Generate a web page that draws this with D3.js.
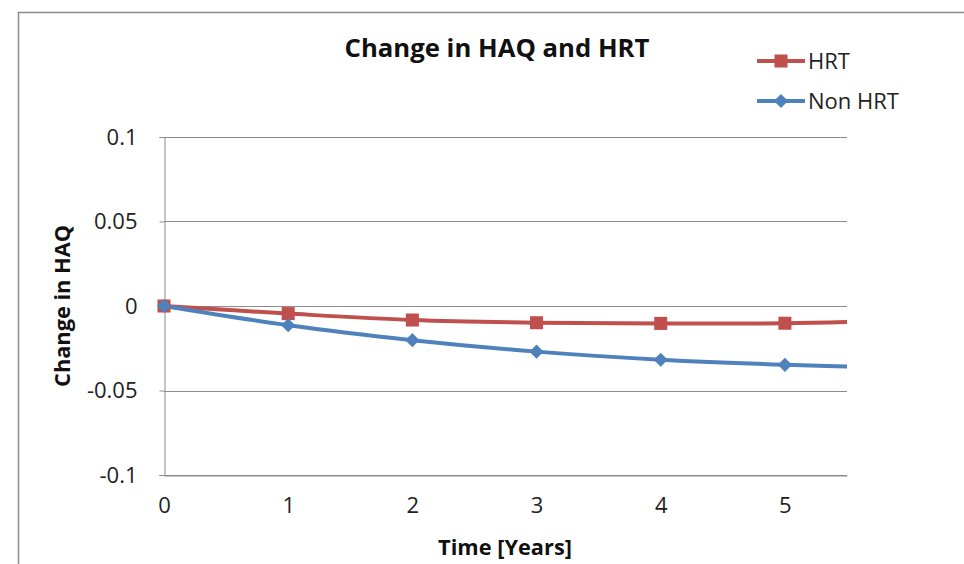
<!DOCTYPE html>
<html><head><meta charset="utf-8">
<script src="https://cdn.jsdelivr.net/npm/d3@7"></script>
<style>body{margin:0;background:#fff}svg{display:block}text{font-family:"Open Sans",sans-serif}</style>
</head><body><svg id="c" width="964" height="564"></svg>
<script>
const years = [0, 1, 2, 3, 4, 5, 6];
const hrt = [0, -0.0045, -0.0083, -0.0099, -0.0103, -0.0102, -0.0085];
const nonHrt = [0, -0.0114, -0.0202, -0.027, -0.0318, -0.0348, -0.0365];
const yTicks = [-0.1, -0.05, 0, 0.05, 0.1];
const yTickLabels = ["-0.1", "-0.05", "0", "0.05", "0.1"];
const xTicks = [0, 1, 2, 3, 4, 5];
const xTickLabels = ["0", "1", "2", "3", "4", "5"];
const seriesNames = ["HRT", "Non HRT"];
const colors = ["#C0504D", "#4F81BD"];

const svg = d3.select("#c");
const L = 164, R = 847, T = 137, B = 475;
const x = d3.scaleLinear().domain([0, 5.5]).range([L, R]);
const y = d3.scaleLinear().domain([-0.1, 0.1]).range([B, T]);

// outer border
svg.append("rect").attr("x", 18.5).attr("y", 12.5).attr("width", 1000).attr("height", 600)
  .attr("fill", "none").attr("stroke", "#8c8c8c").attr("stroke-width", 1.5);

function fit(sel, w) {
  const n = sel.node(); const fs = parseFloat(sel.attr("font-size"));
  const cw = n.getComputedTextLength(); sel.attr("font-size", fs * w / cw);
}

// grid
svg.append("g").selectAll("line").data(yTicks).join("line")
  .attr("x1", L).attr("x2", R).attr("y1", d => Math.round(y(d)) + 0.5).attr("y2", d => Math.round(y(d)) + 0.5)
  .attr("stroke", "#8c8c8c").attr("stroke-width", 1);

// y axis
const ya = svg.append("g").attr("transform", `translate(${L + 0.5},0)`)
  .call(d3.axisLeft(y).tickValues(yTicks).tickSize(5).tickPadding(22).tickFormat((d, i) => yTickLabels[i]));
ya.select(".domain").attr("stroke", "#8c8c8c");
ya.selectAll(".tick line").attr("stroke", "#8c8c8c");
ya.selectAll("text").attr("font-size", 22).attr("fill", "#222").attr("font-family", "Open Sans");

// x axis
const xa = svg.append("g").attr("transform", `translate(0,${B + 0.5})`)
  .call(d3.axisBottom(x).tickValues(xTicks).tickSize(0).tickPadding(22).tickFormat((d, i) => xTickLabels[i]));
xa.select(".domain").attr("stroke", "#8c8c8c");
xa.selectAll("text").attr("font-size", 22).attr("fill", "#222").attr("font-family", "Open Sans");

// clip
svg.append("clipPath").attr("id", "clip").append("rect").attr("x", L - 12).attr("y", T - 12).attr("width", R - L + 12).attr("height", B - T + 24);

const line = d3.line().x((d, i) => x(years[i])).y(d => y(d)).curve(d3.curveCatmullRom.alpha(0.5));
const data = [hrt, nonHrt];
const plot = svg.append("g").attr("clip-path", "url(#clip)");
data.forEach((s, k) => {
  plot.append("path").attr("d", line(s)).attr("fill", "none").attr("stroke", colors[k]).attr("stroke-width", 4);
});
const sq = d3.symbol().type(d3.symbolSquare).size(170);
const dm = d3.symbol().type(d3.symbolSquare).size(100);
const rot = k => k === 0 ? "" : " rotate(45)";
data.forEach((s, k) => {
  plot.selectAll(null).data(s.filter((d, i) => years[i] <= 5.5)).join("path")
    .attr("transform", (d, i) => `translate(${x(years[i])},${y(d)})` + rot(k))
    .attr("d", k === 0 ? sq() : dm()).attr("fill", colors[k]);
});

// title
const t = svg.append("text").attr("x", 497).attr("y", 57).attr("text-anchor", "middle")
  .attr("font-weight", "bold").attr("font-size", 26).attr("fill", "#111").text("Change in HAQ and HRT");
fit(t, 305);
const xt = svg.append("text").attr("x", 505).attr("y", 555).attr("text-anchor", "middle")
  .attr("font-weight", "bold").attr("font-size", 19).attr("fill", "#111").text("Time [Years]");
fit(xt, 134);
const yt = svg.append("text").attr("transform", "translate(70,306) rotate(-90)").attr("text-anchor", "middle")
  .attr("font-weight", "bold").attr("font-size", 19).attr("fill", "#111").text("Change in HAQ");
fit(yt, 162);

// legend
const lg = svg.append("g");
seriesNames.forEach((n, k) => {
  const ly = 61 + k * 40;
  lg.append("line").attr("x1", 757).attr("x2", 805).attr("y1", ly).attr("y2", ly).attr("stroke", colors[k]).attr("stroke-width", 4);
  lg.append("path").attr("transform", `translate(781,${ly})` + rot(k)).attr("d", k === 0 ? sq() : dm()).attr("fill", colors[k]);
  lg.append("text").attr("x", 808).attr("y", ly + 8).attr("font-size", 22).attr("fill", "#222").text(n);
});
</script></body></html>
